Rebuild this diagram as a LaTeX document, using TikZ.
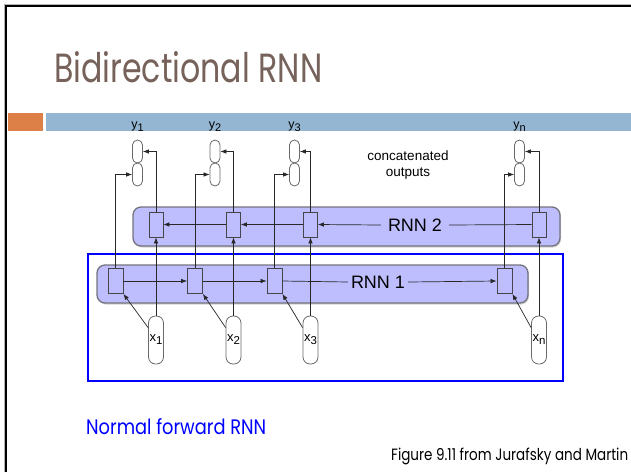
\documentclass[tikz,border=0pt]{standalone}
\usepackage{fontspec}
\setmainfont{Liberation Sans}
\newfontfamily\slidefont{Poppins}
\usetikzlibrary{arrows.meta,shadows}

\definecolor{titlebrown}{RGB}{118,98,90}
\definecolor{accentorange}{RGB}{221,128,71}
\definecolor{accentblue}{RGB}{148,182,210}
\definecolor{rnnfill}{RGB}{190,190,255}
\definecolor{rnnedge}{RGB}{115,115,125}
\definecolor{wirecol}{RGB}{40,40,40}
\definecolor{capedge}{RGB}{105,105,105}

% index set a little below the baseline, nearly full size
\newcommand\lowidx[1]{\raisebox{-0.45ex}{\scalebox{0.88}{#1}}}

\begin{document}
\begin{tikzpicture}[x=1pt,y=-1pt,
  layerbox/.style={draw=rnnedge, line width=1.3pt, fill=rnnfill, rounded corners=8pt,
    inner sep=0pt, drop shadow={shadow xshift=1pt, shadow yshift=-1.5pt, opacity=0.35}},
  cell/.style={draw=rnnedge!60!black, line width=0.8pt, fill=rnnfill,
    minimum width=15pt, minimum height=25pt, inner sep=0pt},
  ycap/.style={draw=capedge, line width=0.8pt, fill=white, rounded corners=5pt,
    minimum width=10pt, minimum height=23pt, inner sep=0pt},
  xcap/.style={draw=capedge, line width=0.8pt, fill=white, rounded corners=7pt,
    minimum width=15pt, minimum height=48pt, inner sep=0pt,
    font=\fontsize{13}{15}\selectfont},
  lab/.style={inner sep=0pt, font=\fontsize{12.5}{15}\selectfont},
  layerlab/.style={fill=rnnfill, inner ysep=0pt, font=\fontsize{18}{20}\selectfont},
  wire/.style={draw=wirecol, line width=0.7pt},
  tip/.style={-{Latex[length=6pt,width=4.6pt]}}
]
\useasboundingbox (0,0) rectangle (631,472);

% slide frame and header bars
\draw[gray!60, line width=0.6pt] (4.6,472) -- (4.6,4.6) -- (631,4.6);
\draw[black, line width=2.3pt] (6.3,472) -- (6.3,6.3) -- (631,6.3);
\fill[accentorange] (8,113) rectangle (43,131);
\fill[accentblue] (46,113) rectangle (631,131);

\node[anchor=base west, inner sep=0pt, text=titlebrown] (title) at (54,82.5)
  {\resizebox{268pt}{31pt}{\slidefont Bidirectional RNN}};

% the two recurrent layers
\node[layerbox, minimum width=427pt, minimum height=39pt] (rnn2) at (346.5,226.5) {};
\node[layerbox, minimum width=431pt, minimum height=38pt] (rnn1) at (312.5,284) {};

% frame around the forward network
\draw[blue, line width=2.5pt] (88,254) rectangle (563,381);

% cells, inputs and outputs of each time step
\foreach \i/\a/\b/\c in {1/115.5/156/137.5, 2/195/233.5/215, 3/274.5/310.5/294.5, n/504.5/539/519.5}{
  \node[cell] (f\i) at (\a,281) {};
  \node[cell, minimum width=14pt] (b\i) at (\b,224.5) {};
  \node[xcap] (x\i) at (\b,340) {x\lowidx{\i}};
  \node[ycap] (yt\i) at (\c,151.5) {};
  \node[ycap] (yb\i) at (\c,174.5) {};
  \node[lab] (ylab\i) at (\c,127) {y\lowidx{\i}};
}

\node[layerlab, inner xsep=3pt] (r1) at (378,282) {RNN 1};
\node[layerlab, inner xsep=7pt] (r2) at (415,225) {RNN 2};

\node[align=center, font=\fontsize{13.5}{16}\selectfont] (concat) at (408,165)
  {concatenated\\outputs};

% connections per time step
\foreach \i in {1,2,3,n}{
  \draw[wire,tip] (f\i.north) |- (yb\i.west);
  \draw[wire,tip] (b\i.north) |- (yt\i.east);
  \draw[wire,tip] (x\i.north) -- (b\i.south);
  \draw[wire,tip] ([yshift=-12pt]x\i.north west) -- (f\i.south east);
}

% forward chain
\draw[wire,tip] (f1.east) -- (f2.west);
\draw[wire,tip] (f2.east) -- (f3.west);
\draw[wire] (f3.east) -- (r1.west);
\draw[wire,tip] (r1.east) -- (fn.west);

% backward chain
\draw[wire] (bn.west) -- (r2.east);
\draw[wire,tip] (r2.west) -- (b3.east);
\draw[wire,tip] (b3.west) -- (b2.east);
\draw[wire,tip] (b2.west) -- (b1.east);

% captions
\node[anchor=base west, inner sep=0pt, text=blue] (normal) at (86,434.3)
  {\resizebox{180pt}{16pt}{\slidefont Normal forward RNN}};
\node[anchor=base west, inner sep=0pt] (source) at (391,460)
  {\resizebox{237pt}{12.5pt}{\slidefont Figure 9.11 from Jurafsky and Martin}};
\end{tikzpicture}
\end{document}
